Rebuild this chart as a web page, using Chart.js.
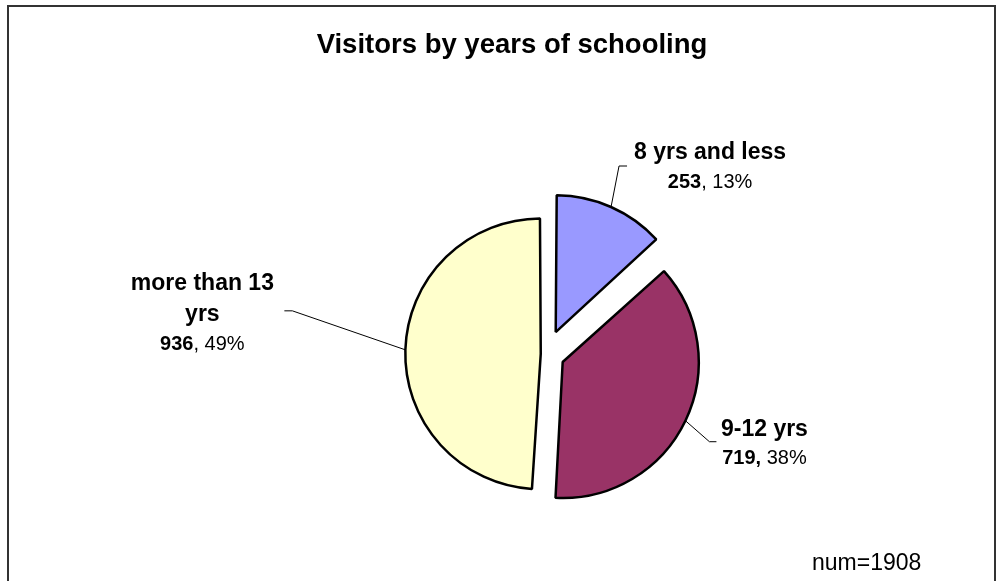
<!DOCTYPE html>
<html lang="en">
<head>
    <meta charset="UTF-8">
    <title>Visitors by years of schooling</title>
    <style>
        body {
            margin: 0;
            padding: 0;
            background: #fff;
            font-family: "Liberation Sans", Arial, sans-serif;
        }
        #wrap {
            position: relative;
            width: 1008px;
            height: 581px;
            overflow: hidden;
        }
        #frame {
            position: absolute;
            left: 7px;
            top: 5px;
            width: 985px;
            height: 600px;
            border: 2px solid #333;
            border-bottom: none;
        }
        #title {
            position: absolute;
            left: 262px;
            width: 500px;
            top: 28px;
            line-height: 32px;
            text-align: center;
            font-weight: bold;
            font-size: 27.5px;
            color: #000;
        }
        #note {
            position: absolute;
            left: 812px;
            top: 548px;
            line-height: 28px;
            font-size: 23px;
            color: #000;
        }
        canvas {
            position: absolute;
            left: 0;
            top: 0;
        }
    </style>
</head>
<body>
<div id="wrap">
    <div id="frame"></div>
    <canvas id="pie" width="1008" height="581"></canvas>
    <div id="title">Visitors by years of schooling</div>
    <div id="note">num=1908</div>
</div>

<script src="https://cdn.jsdelivr.net/npm/chart.js"></script>
<script>
    // data
    const categories = ['8 yrs and less', '9-12 yrs', 'more than 13 yrs'];
    const labelLines = [['8 yrs and less'], ['9-12 yrs'], ['more than 13', 'yrs']];
    const visitors = [253, 719, 936];
    const boldComma = [false, true, false];
    const colors = ['#9999FF', '#993366', '#FFFFCC'];

    const total = visitors.reduce((a, b) => a + b, 0);

    // where each label sits, relative to the point on the slice edge
    const labelLayout = [
        { elbow: [8, -41], tail: [16, -41], textX: 99, base: [-48], valueBase: -19 },
        { elbow: [24, 21], tail: [31, 21], textX: 79, base: [15], valueBase: 43 },
        { elbow: [-113, -39], tail: [-121, -39], textX: -203, base: [-60, -29], valueBase: 0 }
    ];

    const FONT = '"Liberation Sans", Arial, sans-serif';

    const sliceLabels = {
        id: 'sliceLabels',
        afterDatasetsDraw(chart) {
            const ctx = chart.ctx;
            const arcs = chart.getDatasetMeta(0).data;
            ctx.save();
            arcs.forEach((arc, i) => {
                const mid = (arc.startAngle + arc.endAngle) / 2;
                const shift = (arc.options.offset || 0) / 4;
                const circ = arc.endAngle - arc.startAngle;
                const fix = 1 - Math.sin(Math.min(Math.PI, circ));
                const r = arc.outerRadius + shift * fix;
                const cx = arc.x + Math.cos(mid) * shift;
                const cy = arc.y + Math.sin(mid) * shift;
                const ax = cx + Math.cos(mid) * r;
                const ay = cy + Math.sin(mid) * r;
                const lay = labelLayout[i];

                // leader line
                ctx.strokeStyle = '#000';
                ctx.lineWidth = 1;
                ctx.beginPath();
                ctx.moveTo(ax, ay);
                ctx.lineTo(ax + lay.elbow[0], ay + lay.elbow[1]);
                ctx.lineTo(ax + lay.tail[0], ay + lay.tail[1]);
                ctx.stroke();

                // category name
                const tx = ax + lay.textX;
                ctx.fillStyle = '#000';
                ctx.textBaseline = 'alphabetic';
                ctx.textAlign = 'center';
                ctx.font = 'bold 23px ' + FONT;
                labelLines[i].forEach((line, j) => {
                    ctx.fillText(line, tx, ay + lay.base[j]);
                });

                // value and percent, number in bold
                const pct = Math.round(visitors[i] / total * 100);
                const boldPart = boldComma[i] ? visitors[i] + ',' : String(visitors[i]);
                const plainPart = (boldComma[i] ? ' ' : ', ') + pct + '%';
                ctx.font = 'bold 20px ' + FONT;
                const wb = ctx.measureText(boldPart).width;
                ctx.font = '20px ' + FONT;
                const wp = ctx.measureText(plainPart).width;
                const x0 = tx - (wb + wp) / 2;
                const vy = ay + lay.valueBase;
                ctx.textAlign = 'left';
                ctx.font = 'bold 20px ' + FONT;
                ctx.fillText(boldPart, x0, vy);
                ctx.font = '20px ' + FONT;
                ctx.fillText(plainPart, x0 + wb, vy);
            });
            ctx.restore();
        }
    };

    new Chart(document.getElementById('pie').getContext('2d'), {
        type: 'pie',
        data: {
            labels: categories,
            datasets: [{
                data: visitors,
                backgroundColor: colors,
                borderColor: '#000',
                borderWidth: 2.5,
                offset: [96, 74, 21],
                hoverOffset: 0,
                radius: 130.5
            }]
        },
        options: {
            responsive: false,
            animation: false,
            layout: {
                padding: { left: 246, right: 162, top: 134, bottom: 7 }
            },
            plugins: {
                legend: { display: false },
                tooltip: { enabled: false },
                title: { display: false }
            }
        },
        plugins: [sliceLabels]
    });
</script>
</body>
</html>
